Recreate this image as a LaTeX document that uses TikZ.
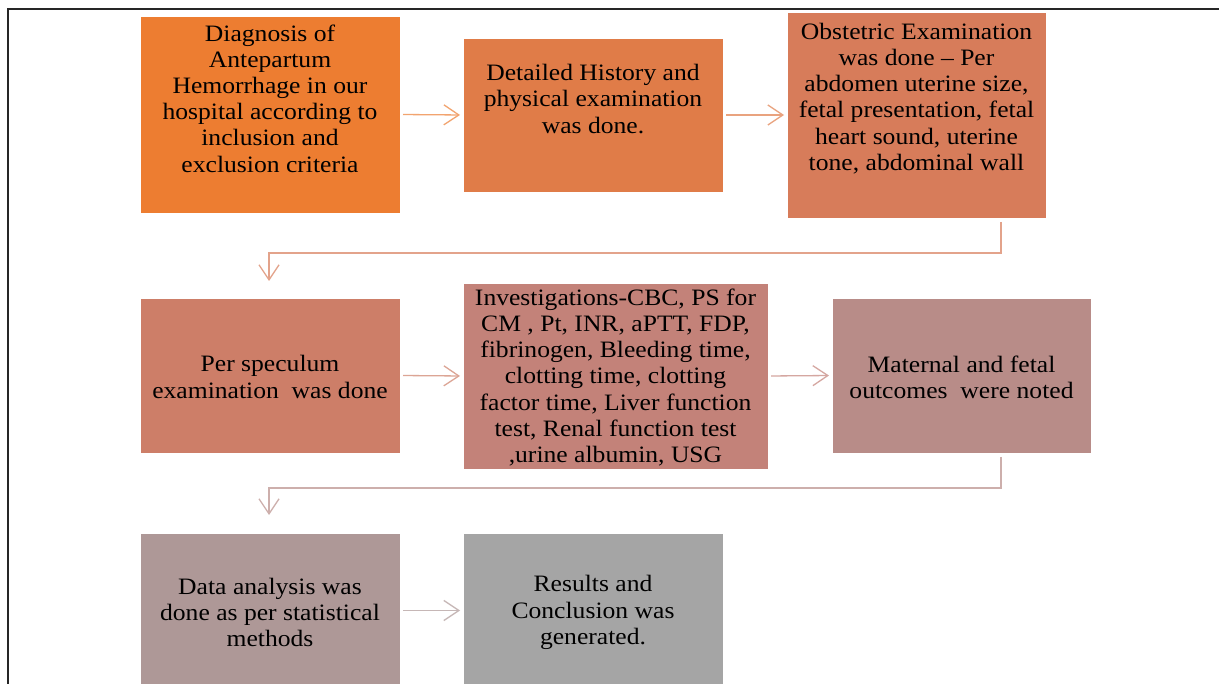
\documentclass[tikz,border=0pt]{standalone}
\usepackage{fontspec}
\setmainfont{Liberation Serif}[FakeStretch=1.09]
\usetikzlibrary{arrows.meta,calc}
\definecolor{c1}{HTML}{ED7D31}
\definecolor{c2}{HTML}{E07C48}
\definecolor{c3}{HTML}{D77C5A}
\definecolor{c4}{HTML}{CD7E68}
\definecolor{c5}{HTML}{C38279}
\definecolor{c6}{HTML}{B88C88}
\definecolor{c7}{HTML}{AE9897}
\definecolor{c8}{HTML}{A5A5A5}
\tikzset{
  box/.style={draw=white, line width=0.6pt, inner sep=0pt, outer sep=0pt},
  txt/.style={align=center, inner sep=0pt, font=\fontsize{23.5}{26.2}\selectfont, text=black},
  flow/.style={line width=1.3pt, -{Straight Barb[length=15pt,width=20pt,line width=1.3pt]}, shorten <=3pt, shorten >=3pt},
}
\begin{document}
\begin{tikzpicture}[x=1pt,y=-1pt]
\useasboundingbox (0,0) rectangle (1219,684);
\fill[white] (0,0) rectangle (1219,684);
\draw[line width=2pt, black!85] (8,690) -- (8,9) -- (1225,9);

\node[box, fill=c1, minimum width=260pt, minimum height=197pt] (b1) at (270,114.5) {};
\node[box, fill=c2, minimum width=260pt, minimum height=154pt] (b2) at (593,115) {};
\node[box, fill=c3, minimum width=259pt, minimum height=206pt] (b3) at (916.5,115) {};
\node[box, fill=c4, minimum width=260pt, minimum height=155pt] (b4) at (270,375.5) {};
\node[box, fill=c5, minimum width=305pt, minimum height=186pt] (b5) at (615.5,376) {};
\node[box, fill=c6, minimum width=259pt, minimum height=155pt] (b6) at (961.5,375.5) {};
\node[box, fill=c7, minimum width=260pt, minimum height=155pt] (b7) at (270,610.5) {};
\node[box, fill=c8, minimum width=260pt, minimum height=155pt] (b8) at (593,610.5) {};

\node[txt] (t1) at (270,98.5) {Diagnosis of\\Antepartum\\Hemorrhage in our\\hospital according to\\inclusion and\\exclusion criteria};
\node[txt] (t2) at (593,99) {Detailed History and\\physical examination\\was done.};
\node[txt] (t3) at (916.5,98.5) {Obstetric Examination\\was done -- Per\\abdomen uterine size,\\fetal presentation, fetal\\heart sound, uterine\\tone, abdominal wall};
\node[txt] (t4) at (270,377) {Per speculum\\examination\ \ was done};
\node[txt] (t5) at (615.5,377.5) {Investigations-CBC, PS for\\CM , Pt, INR, aPTT, FDP,\\fibrinogen, Bleeding time,\\clotting time, clotting\\factor time, Liver function\\test, Renal function test\\,urine albumin, USG};
\node[txt] (t6) at (961.5,377) {Maternal and fetal\\outcomes\ \ were noted};
\node[txt] (t7) at (270,612.5) {Data analysis was\\done as per statistical\\methods};
\node[txt] (t8) at (593,612.5) {Results and\\Conclusion was\\generated.};

\draw[flow, draw=c1!70!white] (b1.east) -- (b2.west);
\draw[flow, draw=c2!70!white] (b2.east) -- (b3.west);
\draw[flow, draw=c3!70!white, shorten <=0pt, shorten >=0pt] ([shift={(-45,4)}]b3.south east) -- ++(0,31) -| ([shift={(-1,-17)}]b4.north);
\draw[flow, draw=c4!70!white] (b4.east) -- (b5.west);
\draw[flow, draw=c5!70!white] (b5.east) -- (b6.west);
\draw[flow, draw=c6!70!white, shorten <=0pt, shorten >=0pt] ([shift={(-90,4)}]b6.south east) -- ++(0,31) -| ([shift={(-1,-18)}]b7.north);
\draw[flow, draw=c7!70!white] (b7.east) -- (b8.west);
\end{tikzpicture}
\end{document}
